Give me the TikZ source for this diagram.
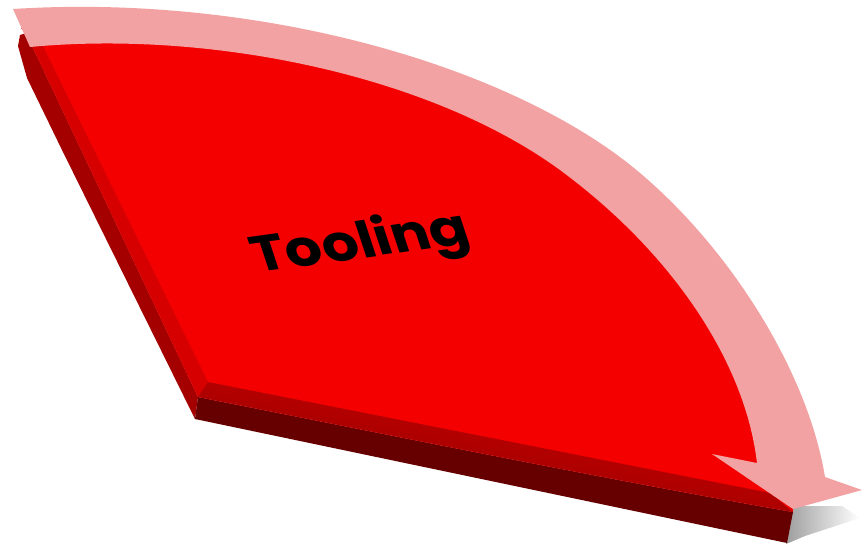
\documentclass[tikz,border=0pt]{standalone}
\usepackage{fontspec}
\newfontfamily\toolfont{Poppins}
\definecolor{facered}{RGB}{245,0,0}
\definecolor{sidedark}{RGB}{102,0,0}
\definecolor{sideleft}{RGB}{165,0,0}
\definecolor{bevelbot}{RGB}{180,0,0}
\definecolor{bevelleft}{RGB}{215,0,0}
\definecolor{bandpink}{RGB}{242,162,162}
\tikzset{
  face/.style={fill=facered},
  darkside/.style={fill=sidedark},
  leftside/.style={fill=sideleft},
  band/.style={fill=bandpink},
  labeltext/.style={font=\toolfont\bfseries\fontsize{42}{42}\selectfont, text=black, inner sep=0pt}
}
\begin{document}
\begin{tikzpicture}[x=0.03cm,y=-0.03cm]
\useasboundingbox (0,0) rectangle (862,547);
% soft shadow under the arrow head
\shade[left color=black!38, right color=white] (789,506) -- (842,506) -- (860,518) -- (805,536) -- (786,544) -- cycle;
% left side face of the slab
\fill[leftside] (26,33) -- (198,397) -- (195,419) -- (62,150) -- (27,78) -- (18,46) -- (20,35) -- cycle;
% bottom side face of the slab
\fill[darkside] (198,397) .. controls (400,437) and (600,478) .. (793,512) -- (787,543) -- (195,419) -- cycle;
% top face
\fill[face] (26,33) -- (198,397) .. controls (400,437) and (600,478) .. (793,512)
  -- (791,470) .. controls (775,357) and (687,236) .. (580,156)
  .. controls (445,62) and (220,12) .. (21,28) -- cycle;
% bevels
\fill[bevelleft] (26,33) -- (198,397) -- (208,382) -- (40,40) -- cycle;
\shade[top color=facered!85!black, bottom color=bevelbot!80!black, shading angle=-11]
  (198,397) .. controls (400,437) and (600,478) .. (793,512) -- (770,493) -- (208,382) -- cycle;
% arrow band
\fill[band] (13,9) .. controls (230,-5) and (460,50) .. (600,143)
  .. controls (705,212) and (805,355) .. (825,477)
  -- (862,490) -- (793,509) -- (712,454) -- (757,463)
  .. controls (745,360) and (670,251) .. (560,170)
  .. controls (430,75) and (210,30) .. (30,47) -- cycle;
% label
\node[labeltext, cm={1.15,0.16,-0.33,1,(0,0)}] (label) at (361,245) {Tooling};
\end{tikzpicture}
\end{document}
